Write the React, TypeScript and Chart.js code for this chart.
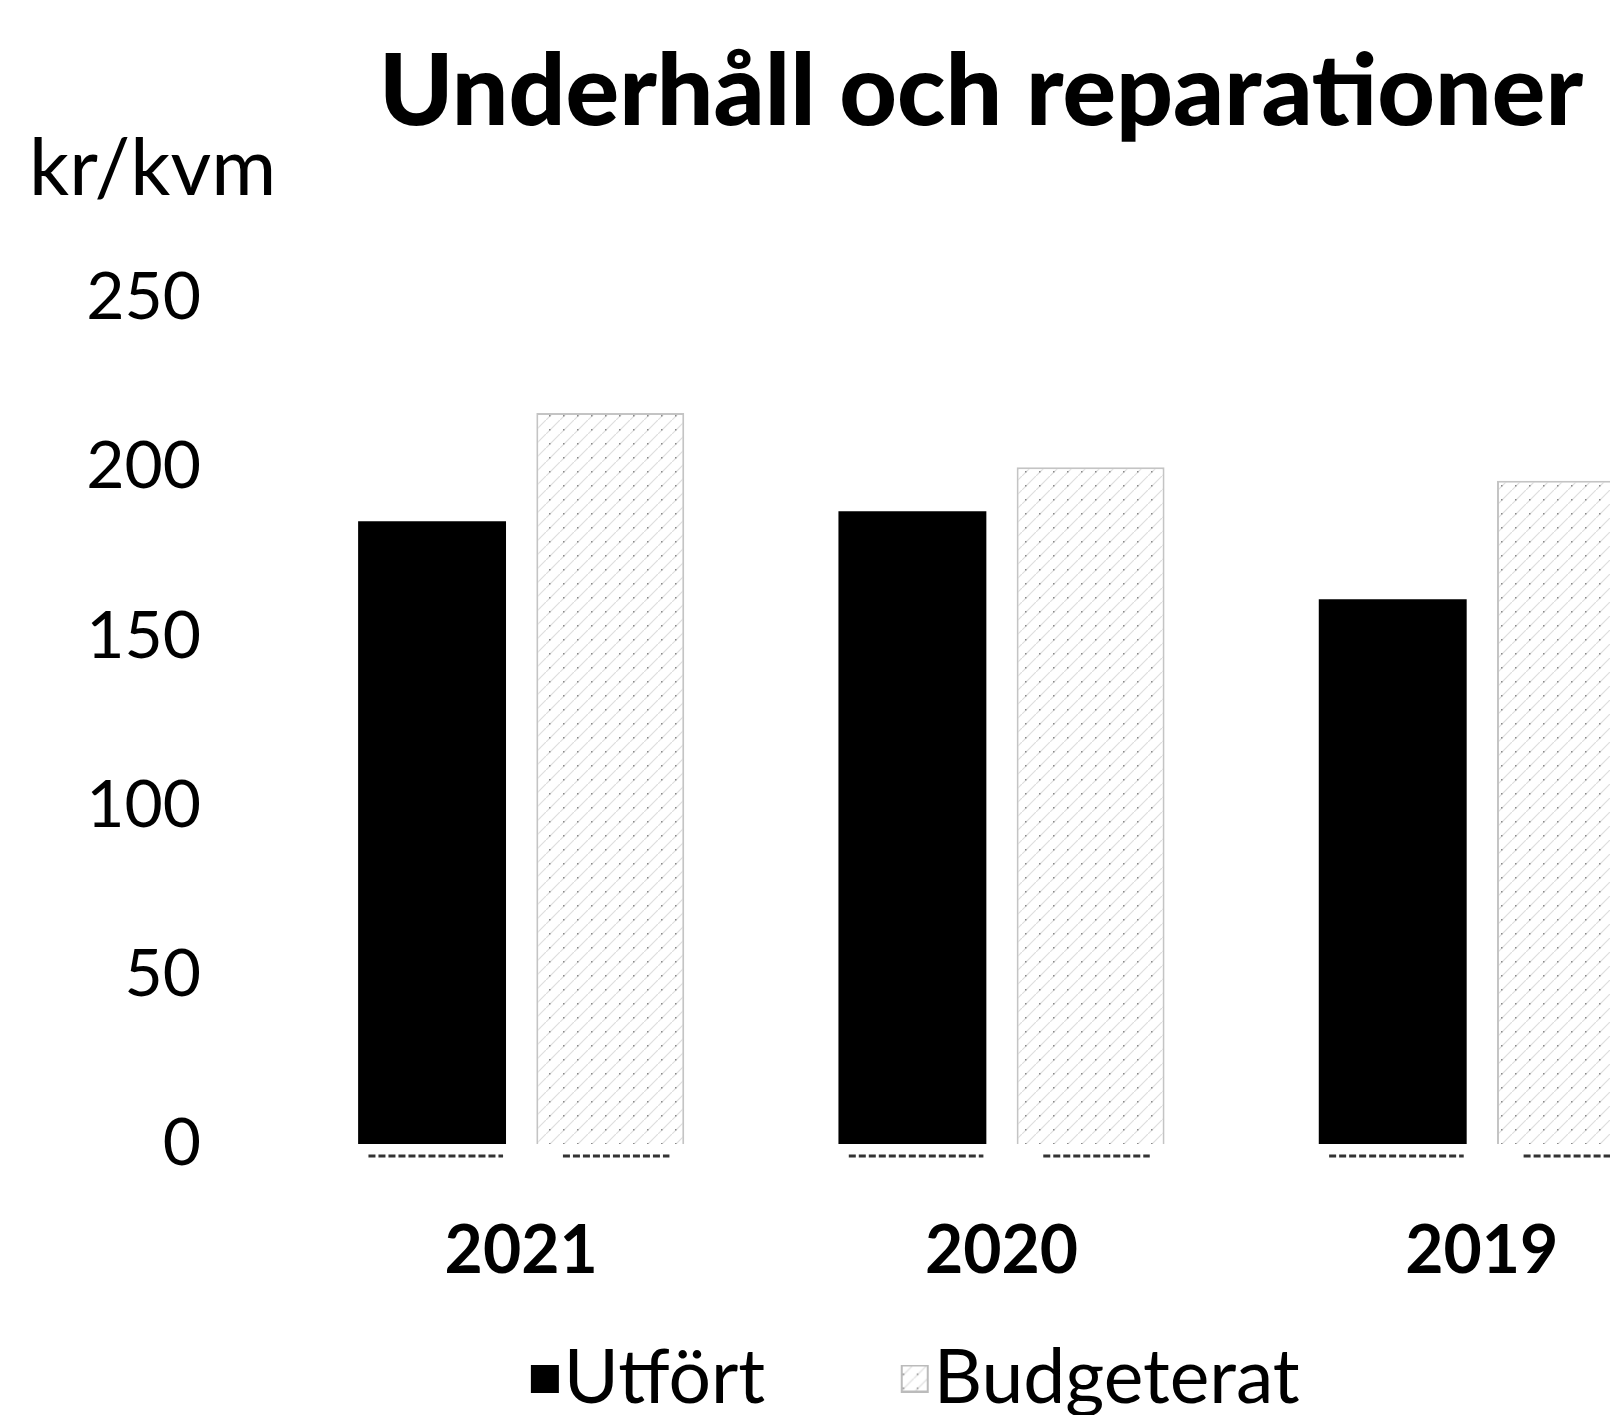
import React, { useEffect, useRef } from "react";
import { Chart, registerables } from "chart.js";

Chart.register(...registerables);

const chartTitle = "Underhåll och reparationer";
const unitLabel = "kr/kvm";
const categories = ["2021", "2020", "2019"];
const utfortValues = [184, 187, 161];
const budgetValues = [216, 200, 196];
const seriesNames = ["Utfört", "Budgeterat"];
const yTicks = [0, 50, 100, 150, 200, 250];

function makePattern(): CanvasPattern | string {
  const c = document.createElement("canvas");
  c.width = 14;
  c.height = 14;
  const g = c.getContext("2d");
  if (!g) return "#ffffff";
  g.fillStyle = "#ffffff";
  g.fillRect(0, 0, 14, 14);
  g.strokeStyle = "#dedede";
  g.lineWidth = 1.2;
  g.beginPath();
  g.moveTo(0, 14);
  g.lineTo(14, 0);
  g.stroke();
  g.fillStyle = "#8a8a8a";
  g.fillRect(3, 9, 1.5, 1.5);
  const p = g.createPattern(c, "repeat");
  return p || "#ffffff";
}

function makeSwatch(fill: CanvasPattern | string, border: string | null): HTMLCanvasElement {
  const c = document.createElement("canvas");
  c.width = 142;
  c.height = 28;
  const g = c.getContext("2d");
  if (g) {
    g.fillStyle = fill as any;
    g.fillRect(113, 0, 28, 28);
    if (border) {
      g.strokeStyle = border;
      g.lineWidth = 2;
      g.strokeRect(114, 1, 26, 26);
    }
  }
  return c;
}

const textPlugin = {
  id: "customTexts",
  afterDraw(chart: any) {
    const ctx = chart.ctx;
    ctx.save();
    ctx.fillStyle = "#000";
    ctx.textBaseline = "alphabetic";
    ctx.textAlign = "center";
    ctx.font = "900 100px Lato";
    ctx.fillText(chartTitle, 981, 125);
    ctx.textAlign = "left";
    ctx.font = "400 79px Lato";
    ctx.fillText(unitLabel, 29, 195);
    ctx.strokeStyle = "#333";
    ctx.lineWidth = 3;
    ctx.setLineDash([7, 3]);
    chart.data.datasets.forEach((_: any, di: number) => {
      const meta = chart.getDatasetMeta(di);
      meta.data.forEach((bar: any) => {
        const p = bar.getProps(["x", "base", "width"], true);
        const inset = di === 0 ? 0.07 : 0.18;
        ctx.beginPath();
        ctx.moveTo(p.x - p.width / 2 + p.width * inset, p.base + 12);
        ctx.lineTo(p.x + p.width / 2 - p.width * (di === 0 ? 0.02 : 0.1), p.base + 12);
        ctx.stroke();
      });
    });
    ctx.restore();
  },
};

export default function App() {
  const ref = useRef<HTMLCanvasElement | null>(null);
  useEffect(() => {
    if (!ref.current) return;
    const pattern = makePattern();
    const swatches = [makeSwatch("#000000", null), makeSwatch(pattern, "#bbbbbb")];
    const chart = new Chart(ref.current, {
      type: "bar",
      data: {
        labels: categories,
        datasets: [
          {
            label: seriesNames[0],
            data: utfortValues,
            backgroundColor: "#000000",
            borderWidth: 0,
            categoryPercentage: 0.742,
            barPercentage: 0.83,
          },
          {
            label: seriesNames[1],
            data: budgetValues,
            backgroundColor: pattern as any,
            borderColor: "#c4c4c4",
            borderWidth: 2,
            categoryPercentage: 0.742,
            barPercentage: 0.83,
          },
        ],
      },
      options: {
        responsive: false,
        animation: false,
        devicePixelRatio: 1,
        layout: { padding: { top: 298, left: 0, right: 0, bottom: 0 } },
        plugins: {
          title: { display: false },
          tooltip: { enabled: false },
          legend: {
            display: true,
            position: "bottom",
            align: "center",
            labels: {
              color: "#000",
              font: { family: "Lato", size: 75, weight: "normal" },
              usePointStyle: true,
              boxWidth: 82,
              boxHeight: 28,
              padding: 56,
              generateLabels: (ch: any) => {
                const items = Chart.defaults.plugins.legend.labels.generateLabels(ch);
                return items.map((it: any, i: number) => ({ ...it, pointStyle: swatches[i] }));
              },
            },
          },
        },
        scales: {
          x: {
            grid: { display: false, drawTicks: false },
            border: { display: false },
            ticks: {
              color: "#000",
              font: { family: "Lato", size: 66, weight: "bold", lineHeight: 1 },
              padding: 75,
            },
            afterFit: (s: any) => {
              s.height = 141;
            },
          },
          y: {
            min: 0,
            max: 250,
            grid: { display: false, drawTicks: false },
            border: { display: false },
            afterBuildTicks: (s: any) => {
              s.ticks = yTicks.map((v) => ({ value: v }));
            },
            ticks: {
              color: "#000",
              font: { family: "Lato", size: 66, weight: "normal" },
              padding: 80,
            },
            afterFit: (s: any) => {
              s.width = 281;
            },
          },
          y2: {
            position: "right",
            display: true,
            grid: { display: false, drawTicks: false },
            border: { display: false },
            ticks: { display: false },
            afterFit: (s: any) => {
              s.width = 29;
            },
          },
        },
      },
      plugins: [textPlugin],
    });
    return () => chart.destroy();
  }, []);
  return (
    <div
      style={{
        position: "fixed",
        left: 0,
        top: 0,
        width: 1610,
        height: 1415,
        overflow: "hidden",
        background: "#fff",
      }}
    >
      <canvas ref={ref} width={1751} height={1426} style={{ width: 1751, height: 1426, display: "block" }} />
    </div>
  );
}
